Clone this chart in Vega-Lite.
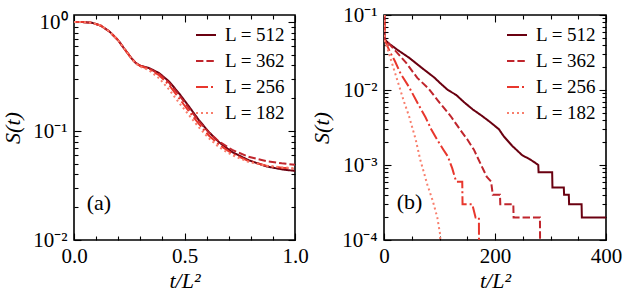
{
  "$schema": "https://vega.github.io/schema/vega-lite/v6.json",
  "padding": {"left": 0, "top": 3, "right": 0, "bottom": 0},
  "background": "white",
  "config": {
    "font": "Liberation Serif",
    "view": {"stroke": "black", "strokeWidth": 1.6},
    "axis": {"grid": false, "domain": false, "tickColor": "black", "tickWidth": 1.1, "labelColor": "black", "titleColor": "black", "labelFont": "Liberation Serif", "labelFontSize": 21, "titleFont": "Liberation Serif", "titleFontStyle": "italic", "titleFontSize": 22, "titleFontWeight": "normal", "labelFlush": false, "labelOverlap": false},
    "legend": {"orient": "top-right", "offset": 9, "padding": 0, "rowPadding": 5, "labelOffset": 8, "labelFont": "Liberation Serif", "labelFontSize": 19, "labelColor": "black", "symbolType": "stroke", "symbolSize": 400, "symbolStrokeWidth": 2, "title": null},
    "text": {"font": "Liberation Serif", "fontSize": 22}
  },
  "datasets": {
    "a": [
      {"L":"L = 512","t":0,"S":1.0},{"L":"L = 512","t":0.04,"S":0.998},{"L":"L = 512","t":0.08,"S":0.985},{"L":"L = 512","t":0.12,"S":0.93},{"L":"L = 512","t":0.16,"S":0.82},{"L":"L = 512","t":0.2,"S":0.68},{"L":"L = 512","t":0.23,"S":0.56},{"L":"L = 512","t":0.26,"S":0.465},{"L":"L = 512","t":0.28,"S":0.42},{"L":"L = 512","t":0.3,"S":0.398},{"L":"L = 512","t":0.34,"S":0.378},{"L":"L = 512","t":0.385,"S":0.34},{"L":"L = 512","t":0.43,"S":0.285},{"L":"L = 512","t":0.475,"S":0.222},{"L":"L = 512","t":0.52,"S":0.168},{"L":"L = 512","t":0.565,"S":0.126},{"L":"L = 512","t":0.61,"S":0.098},{"L":"L = 512","t":0.656,"S":0.079},{"L":"L = 512","t":0.716,"S":0.064},{"L":"L = 512","t":0.79,"S":0.054},{"L":"L = 512","t":0.87,"S":0.0474},{"L":"L = 512","t":0.94,"S":0.0445},{"L":"L = 512","t":1.0,"S":0.043},
      {"L":"L = 362","t":0,"S":1.0},{"L":"L = 362","t":0.04,"S":0.998},{"L":"L = 362","t":0.08,"S":0.985},{"L":"L = 362","t":0.12,"S":0.93},{"L":"L = 362","t":0.16,"S":0.82},{"L":"L = 362","t":0.2,"S":0.68},{"L":"L = 362","t":0.23,"S":0.56},{"L":"L = 362","t":0.26,"S":0.465},{"L":"L = 362","t":0.28,"S":0.42},{"L":"L = 362","t":0.3,"S":0.397},{"L":"L = 362","t":0.34,"S":0.375},{"L":"L = 362","t":0.385,"S":0.335},{"L":"L = 362","t":0.43,"S":0.278},{"L":"L = 362","t":0.475,"S":0.215},{"L":"L = 362","t":0.52,"S":0.162},{"L":"L = 362","t":0.565,"S":0.123},{"L":"L = 362","t":0.61,"S":0.097},{"L":"L = 362","t":0.656,"S":0.08},{"L":"L = 362","t":0.716,"S":0.067},{"L":"L = 362","t":0.79,"S":0.058},{"L":"L = 362","t":0.87,"S":0.053},{"L":"L = 362","t":0.94,"S":0.0505},{"L":"L = 362","t":1.0,"S":0.049},
      {"L":"L = 256","t":0,"S":1.0},{"L":"L = 256","t":0.04,"S":0.998},{"L":"L = 256","t":0.08,"S":0.985},{"L":"L = 256","t":0.12,"S":0.93},{"L":"L = 256","t":0.16,"S":0.82},{"L":"L = 256","t":0.2,"S":0.68},{"L":"L = 256","t":0.23,"S":0.56},{"L":"L = 256","t":0.26,"S":0.465},{"L":"L = 256","t":0.28,"S":0.42},{"L":"L = 256","t":0.3,"S":0.395},{"L":"L = 256","t":0.34,"S":0.37},{"L":"L = 256","t":0.385,"S":0.325},{"L":"L = 256","t":0.43,"S":0.265},{"L":"L = 256","t":0.475,"S":0.2},{"L":"L = 256","t":0.52,"S":0.152},{"L":"L = 256","t":0.565,"S":0.116},{"L":"L = 256","t":0.61,"S":0.091},{"L":"L = 256","t":0.656,"S":0.075},{"L":"L = 256","t":0.716,"S":0.062},{"L":"L = 256","t":0.79,"S":0.053},{"L":"L = 256","t":0.87,"S":0.048},{"L":"L = 256","t":0.94,"S":0.046},{"L":"L = 256","t":1.0,"S":0.045},
      {"L":"L = 182","t":0,"S":1.0},{"L":"L = 182","t":0.04,"S":0.998},{"L":"L = 182","t":0.08,"S":0.985},{"L":"L = 182","t":0.12,"S":0.93},{"L":"L = 182","t":0.16,"S":0.82},{"L":"L = 182","t":0.2,"S":0.68},{"L":"L = 182","t":0.23,"S":0.56},{"L":"L = 182","t":0.26,"S":0.46},{"L":"L = 182","t":0.28,"S":0.415},{"L":"L = 182","t":0.3,"S":0.39},{"L":"L = 182","t":0.34,"S":0.36},{"L":"L = 182","t":0.385,"S":0.305},{"L":"L = 182","t":0.43,"S":0.24},{"L":"L = 182","t":0.475,"S":0.182},{"L":"L = 182","t":0.52,"S":0.14},{"L":"L = 182","t":0.565,"S":0.108},{"L":"L = 182","t":0.61,"S":0.086},{"L":"L = 182","t":0.656,"S":0.071},{"L":"L = 182","t":0.716,"S":0.06},{"L":"L = 182","t":0.79,"S":0.052},{"L":"L = 182","t":0.87,"S":0.048},{"L":"L = 182","t":0.94,"S":0.0465},{"L":"L = 182","t":1.0,"S":0.0455}
    ],
    "b": [
      {"L":"L = 512","t":0,"S":1},{"L":"L = 512","t":1,"S":0.047},{"L":"L = 512","t":10,"S":0.041},{"L":"L = 512","t":25,"S":0.034},{"L":"L = 512","t":45,"S":0.027},{"L":"L = 512","t":60,"S":0.022},{"L":"L = 512","t":75,"S":0.018},{"L":"L = 512","t":90,"S":0.0148},{"L":"L = 512","t":102,"S":0.0122},{"L":"L = 512","t":115,"S":0.01},{"L":"L = 512","t":130,"S":0.0086},{"L":"L = 512","t":145,"S":0.0068},{"L":"L = 512","t":160,"S":0.0055},{"L":"L = 512","t":175,"S":0.0046},{"L":"L = 512","t":190,"S":0.0038},{"L":"L = 512","t":207,"S":0.003},{"L":"L = 512","t":216,"S":0.0024},{"L":"L = 512","t":231,"S":0.0018},{"L":"L = 512","t":249,"S":0.00135},{"L":"L = 512","t":262,"S":0.0012},{"L":"L = 512","t":270,"S":0.0011},{"L":"L = 512","t":278,"S":0.001},{"L":"L = 512","t":278.5,"S":0.0008},{"L":"L = 512","t":303,"S":0.0008},{"L":"L = 512","t":303.5,"S":0.0005},{"L":"L = 512","t":324,"S":0.0005},{"L":"L = 512","t":324.5,"S":0.0004},{"L":"L = 512","t":333,"S":0.0004},{"L":"L = 512","t":333.5,"S":0.0003},{"L":"L = 512","t":356,"S":0.0003},{"L":"L = 512","t":356.5,"S":0.0002},{"L":"L = 512","t":400,"S":0.0002},
      {"L":"L = 362","t":0,"S":1},{"L":"L = 362","t":1,"S":0.048},{"L":"L = 362","t":18,"S":0.035},{"L":"L = 362","t":40,"S":0.023},{"L":"L = 362","t":60,"S":0.0145},{"L":"L = 362","t":80,"S":0.0105},{"L":"L = 362","t":100,"S":0.0068},{"L":"L = 362","t":120,"S":0.0045},{"L":"L = 362","t":138,"S":0.0029},{"L":"L = 362","t":150,"S":0.0022},{"L":"L = 362","t":162,"S":0.0016},{"L":"L = 362","t":175,"S":0.001},{"L":"L = 362","t":185,"S":0.0007},{"L":"L = 362","t":193,"S":0.0006},{"L":"L = 362","t":196,"S":0.0004},{"L":"L = 362","t":209,"S":0.0004},{"L":"L = 362","t":209.5,"S":0.0003},{"L":"L = 362","t":233,"S":0.0003},{"L":"L = 362","t":233.5,"S":0.0002},{"L":"L = 362","t":281,"S":0.0002},{"L":"L = 362","t":281.5,"S":0.00003},
      {"L":"L = 256","t":0,"S":1},{"L":"L = 256","t":1,"S":0.047},{"L":"L = 256","t":10,"S":0.033},{"L":"L = 256","t":20,"S":0.024},{"L":"L = 256","t":30,"S":0.0165},{"L":"L = 256","t":45,"S":0.011},{"L":"L = 256","t":60,"S":0.0068},{"L":"L = 256","t":75,"S":0.0043},{"L":"L = 256","t":85,"S":0.003},{"L":"L = 256","t":97,"S":0.0021},{"L":"L = 256","t":107,"S":0.0016},{"L":"L = 256","t":115,"S":0.0013},{"L":"L = 256","t":123,"S":0.0009},{"L":"L = 256","t":130,"S":0.0006},{"L":"L = 256","t":141,"S":0.0006},{"L":"L = 256","t":141.5,"S":0.0003},{"L":"L = 256","t":159,"S":0.0003},{"L":"L = 256","t":165,"S":0.0002},{"L":"L = 256","t":171,"S":0.0002},{"L":"L = 256","t":171.5,"S":0.00003},
      {"L":"L = 182","t":0,"S":1},{"L":"L = 182","t":1,"S":0.046},{"L":"L = 182","t":6,"S":0.036},{"L":"L = 182","t":12,"S":0.026},{"L":"L = 182","t":24,"S":0.0135},{"L":"L = 182","t":36,"S":0.007},{"L":"L = 182","t":45,"S":0.0045},{"L":"L = 182","t":57,"S":0.0022},{"L":"L = 182","t":65,"S":0.0012},{"L":"L = 182","t":78,"S":0.00055},{"L":"L = 182","t":88,"S":0.00033},{"L":"L = 182","t":96,"S":0.0002},{"L":"L = 182","t":101,"S":0.00012},{"L":"L = 182","t":103,"S":0.00003}
    ],
    "la": [{"t":0.113,"S":0.022,"label":"(a)"}],
    "lb": [{"t":46,"S":0.000325,"label":"(b)"}]
  },
  "hconcat": [
    {
      "width": 221, "height": 225,
      "layer": [
        {
          "data": {"name": "a"},
          "mark": {"type": "line", "strokeWidth": 2, "clip": true},
          "encoding": {
            "x": {"field": "t", "type": "quantitative", "scale": {"domain": [0, 1], "nice": false, "zero": false},
                  "axis": {"orient": "bottom", "values": [0, 0.5, 1], "format": ".1f", "tickSize": -7, "labelPadding": 12, "labelFont": "Liberation Serif", "title": "t/L²", "titlePadding": 4}},
            "y": {"field": "S", "type": "quantitative", "scale": {"type": "log", "domain": [0.01, 1.16], "nice": false},
                  "axis": {"orient": "left", "values": [0.01, 0.1, 1], "labelExpr": "datum.value >= 0.5 ? '10⁰' : datum.value >= 0.05 ? '10⁻¹' : datum.value >= 0.005 ? '10⁻²' : datum.value >= 0.0005 ? '10⁻³' : '10⁻⁴'", "tickSize": -7, "labelPadding": 14, "labelFont": "Liberation Serif", "title": "S(t)", "titlePadding": 8}},
            "color": {"field": "L", "type": "nominal", "scale": {"domain": ["L = 512", "L = 362", "L = 256", "L = 182"], "range": ["#6a0010", "#c0252c", "#e8372d", "#f87e6c"]}, "legend": {"title": null}},
            "strokeDash": {"field": "L", "type": "nominal", "scale": {"domain": ["L = 512", "L = 362", "L = 256", "L = 182"], "range": [[1, 0], [7.4, 3], [12, 3, 2, 3], [2, 3]]}, "legend": {"title": null}}
          }
        },
        {
          "data": {"name": "la"},
          "mark": {"type": "text", "align": "center", "baseline": "middle", "font": "Liberation Serif"},
          "encoding": {
            "x": {"field": "t", "type": "quantitative", "scale": {"domain": [0, 1], "nice": false, "zero": false},
                  "axis": {"orient": "bottom", "values": [0.1, 0.2, 0.3, 0.4, 0.6, 0.7, 0.8, 0.9], "labels": false, "tickSize": -4, "title": null}},
            "y": {"field": "S", "type": "quantitative", "scale": {"type": "log", "domain": [0.01, 1.16], "nice": false},
                  "axis": {"orient": "left", "values": [0.02, 0.03, 0.04, 0.05, 0.06, 0.07, 0.08, 0.09, 0.2, 0.3, 0.4, 0.5, 0.6, 0.7, 0.8, 0.9], "labels": false, "tickSize": -4, "title": null}},
            "text": {"field": "label"}
          }
        },
        {
          "data": {"name": "la"},
          "mark": {"type": "point", "opacity": 0},
          "encoding": {
            "x": {"field": "t", "type": "quantitative", "scale": {"domain": [0, 1], "nice": false, "zero": false},
                  "axis": {"orient": "top", "values": [0, 0.5, 1], "labels": false, "tickSize": -7, "title": null}},
            "y": {"field": "S", "type": "quantitative", "scale": {"type": "log", "domain": [0.01, 1.16], "nice": false},
                  "axis": {"orient": "right", "values": [0.01, 0.1, 1], "labels": false, "tickSize": -7, "title": null}}
          }
        },
        {
          "data": {"name": "la"},
          "mark": {"type": "point", "opacity": 0},
          "encoding": {
            "x": {"field": "t", "type": "quantitative", "scale": {"domain": [0, 1], "nice": false, "zero": false},
                  "axis": {"orient": "top", "values": [0.1, 0.2, 0.3, 0.4, 0.6, 0.7, 0.8, 0.9], "labels": false, "tickSize": -4, "title": null}},
            "y": {"field": "S", "type": "quantitative", "scale": {"type": "log", "domain": [0.01, 1.16], "nice": false},
                  "axis": {"orient": "right", "values": [0.02, 0.03, 0.04, 0.05, 0.06, 0.07, 0.08, 0.09, 0.2, 0.3, 0.4, 0.5, 0.6, 0.7, 0.8, 0.9], "labels": false, "tickSize": -4, "title": null}}
          }
        }
      ],
      "resolve": {"axis": {"x": "independent", "y": "independent"}}
    },
    {
      "width": 222, "height": 225,
      "layer": [
        {
          "data": {"name": "b"},
          "mark": {"type": "line", "strokeWidth": 2, "clip": true},
          "encoding": {
            "x": {"field": "t", "type": "quantitative", "scale": {"domain": [0, 400], "nice": false, "zero": false},
                  "axis": {"orient": "bottom", "values": [0, 200, 400], "format": "d", "tickSize": -7, "labelPadding": 12, "labelFont": "Liberation Serif", "title": "t/L²", "titlePadding": 4}},
            "y": {"field": "S", "type": "quantitative", "scale": {"type": "log", "domain": [0.0001, 0.1], "nice": false},
                  "axis": {"orient": "left", "values": [0.0001, 0.001, 0.01, 0.1], "labelExpr": "datum.value >= 0.5 ? '10⁰' : datum.value >= 0.05 ? '10⁻¹' : datum.value >= 0.005 ? '10⁻²' : datum.value >= 0.0005 ? '10⁻³' : '10⁻⁴'", "tickSize": -7, "labelPadding": 14, "labelFont": "Liberation Serif", "title": "S(t)", "titlePadding": 8}},
            "color": {"field": "L", "type": "nominal", "scale": {"domain": ["L = 512", "L = 362", "L = 256", "L = 182"], "range": ["#6a0010", "#c0252c", "#e8372d", "#f87e6c"]}, "legend": {"title": null}},
            "strokeDash": {"field": "L", "type": "nominal", "scale": {"domain": ["L = 512", "L = 362", "L = 256", "L = 182"], "range": [[1, 0], [7.4, 3], [12, 3, 2, 3], [2, 3]]}, "legend": {"title": null}}
          }
        },
        {
          "data": {"name": "lb"},
          "mark": {"type": "text", "align": "center", "baseline": "middle", "font": "Liberation Serif"},
          "encoding": {
            "x": {"field": "t", "type": "quantitative", "scale": {"domain": [0, 400], "nice": false, "zero": false},
                  "axis": {"orient": "bottom", "values": [50, 100, 150, 250, 300, 350], "labels": false, "tickSize": -4, "title": null}},
            "y": {"field": "S", "type": "quantitative", "scale": {"type": "log", "domain": [0.0001, 0.1], "nice": false},
                  "axis": {"orient": "left", "values": [0.0002, 0.0003, 0.0004, 0.0005, 0.0006, 0.0007, 0.0008, 0.0009, 0.002, 0.003, 0.004, 0.005, 0.006, 0.007, 0.008, 0.009, 0.02, 0.03, 0.04, 0.05, 0.06, 0.07, 0.08, 0.09], "labels": false, "tickSize": -4, "title": null}},
            "text": {"field": "label"}
          }
        },
        {
          "data": {"name": "lb"},
          "mark": {"type": "point", "opacity": 0},
          "encoding": {
            "x": {"field": "t", "type": "quantitative", "scale": {"domain": [0, 400], "nice": false, "zero": false},
                  "axis": {"orient": "top", "values": [0, 200, 400], "labels": false, "tickSize": -7, "title": null}},
            "y": {"field": "S", "type": "quantitative", "scale": {"type": "log", "domain": [0.0001, 0.1], "nice": false},
                  "axis": {"orient": "right", "values": [0.0001, 0.001, 0.01, 0.1], "labels": false, "tickSize": -7, "title": null}}
          }
        },
        {
          "data": {"name": "lb"},
          "mark": {"type": "point", "opacity": 0},
          "encoding": {
            "x": {"field": "t", "type": "quantitative", "scale": {"domain": [0, 400], "nice": false, "zero": false},
                  "axis": {"orient": "top", "values": [50, 100, 150, 250, 300, 350], "labels": false, "tickSize": -4, "title": null}},
            "y": {"field": "S", "type": "quantitative", "scale": {"type": "log", "domain": [0.0001, 0.1], "nice": false},
                  "axis": {"orient": "right", "values": [0.0002, 0.0003, 0.0004, 0.0005, 0.0006, 0.0007, 0.0008, 0.0009, 0.002, 0.003, 0.004, 0.005, 0.006, 0.007, 0.008, 0.009, 0.02, 0.03, 0.04, 0.05, 0.06, 0.07, 0.08, 0.09], "labels": false, "tickSize": -4, "title": null}}
          }
        }
      ],
      "resolve": {"axis": {"x": "independent", "y": "independent"}}
    }
  ],
  "spacing": 0,
  "resolve": {"scale": {"color": "independent", "strokeDash": "independent"}, "legend": {"color": "independent", "strokeDash": "independent"}}
}
